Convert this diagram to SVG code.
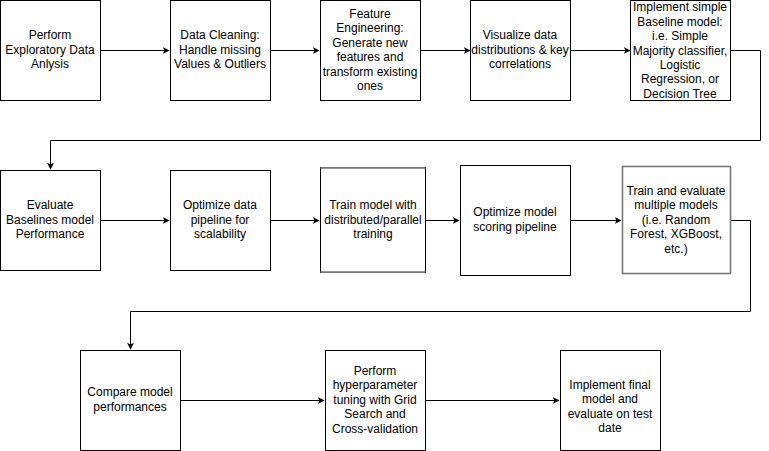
<svg xmlns="http://www.w3.org/2000/svg" width="769" height="451" viewBox="0 0 769 451">
<defs>
<style>
.n rect{fill:#fff;stroke:#000;stroke-width:1}
.g rect{stroke:#777;stroke-width:1.6}
text{font-family:"Liberation Sans",Arial,sans-serif;font-size:12px;fill:#000;text-anchor:middle}
.c path{fill:none;stroke:#000;stroke-width:1}
</style>
<marker id="a" viewBox="0 0 10 10" refX="9" refY="5" markerWidth="7" markerHeight="7" markerUnits="userSpaceOnUse" orient="auto"><path d="M0,0 L10,5 L0,10 L2.5,5 Z" fill="#000"/></marker>
</defs>
<rect width="769" height="451" fill="#fff"/>
<g class="c">
<path d="M100.5,50.5 H169" marker-end="url(#a)"/>
<path d="M270.5,50.5 H319" marker-end="url(#a)"/>
<path d="M420.5,50.5 H470" marker-end="url(#a)"/>
<path d="M570.5,50.5 H630" marker-end="url(#a)"/>
<path d="M730.5,50.5 H760.5 V140.5 H50.5 V169" marker-end="url(#a)"/>
<path d="M100.5,220.5 H169" marker-end="url(#a)"/>
<path d="M270.5,220.5 H319" marker-end="url(#a)"/>
<path d="M425.5,220.5 H459" marker-end="url(#a)"/>
<path d="M570.5,220.5 H621" marker-end="url(#a)"/>
<path d="M730.5,220.5 H750.5 V311.5 H130.5 V349" marker-end="url(#a)"/>
<path d="M180.5,400.5 H324" marker-end="url(#a)"/>
<path d="M425.5,400.5 H559" marker-end="url(#a)"/>
</g>
<g id="n1" class="n"><rect x="0.5" y="0.5" width="100" height="100"/><text x="50" y="39">Perform</text><text x="50" y="54">Exploratory Data</text><text x="50" y="68">Anlysis</text></g>
<g id="n2" class="n"><rect x="170.5" y="0.5" width="100" height="100"/><text x="220" y="39">Data Cleaning:</text><text x="220" y="54">Handle missing</text><text x="220" y="68">Values &amp; Outliers</text></g>
<g id="n3" class="n"><rect x="320.5" y="0.5" width="100" height="100"/><text x="370" y="18">Feature</text><text x="370" y="32">Engineering:</text><text x="370" y="47">Generate new</text><text x="370" y="61">features and</text><text x="370" y="76">transform existing</text><text x="370" y="90">ones</text></g>
<g id="n4" class="n"><rect x="470.5" y="0.5" width="100" height="100"/><text x="520" y="39">Visualize data</text><text x="520" y="54">distributions &amp; key</text><text x="520" y="68">correlations</text></g>
<g id="n5" class="n"><rect x="630.5" y="0.5" width="100" height="100"/><text x="680" y="11">Implement simple</text><text x="680" y="26">Baseline model:</text><text x="680" y="40">i.e. Simple</text><text x="680" y="55">Majority classifier,</text><text x="680" y="69">Logistic</text><text x="680" y="83">Regression, or</text><text x="680" y="98">Decision Tree</text></g>
<g id="n6" class="n"><rect x="0.5" y="170.5" width="100" height="100"/><text x="50" y="209">Evaluate</text><text x="50" y="224">Baselines model</text><text x="50" y="238">Performance</text></g>
<g id="n7" class="n"><rect x="170.5" y="170.5" width="100" height="100"/><text x="220" y="209">Optimize data</text><text x="220" y="224">pipeline for</text><text x="220" y="238">scalability</text></g>
<g id="n8" class="n"><rect x="320.5" y="167.5" width="105" height="105"/><path d="M320.5,167.8 H425.5 M320.5,272.2 H425.5" stroke="#777" stroke-width="1.8"/><text x="373" y="209">Train model with</text><text x="373" y="224">distributed/parallel</text><text x="373" y="238">training</text></g>
<g id="n9" class="n"><rect x="460.5" y="165.5" width="110" height="110"/><text x="515" y="216">Optimize model</text><text x="515" y="231">scoring pipeline</text></g>
<g id="n10" class="n g"><rect x="622.5" y="166.5" width="108" height="107"/><text x="676" y="195">Train and evaluate</text><text x="676" y="209">multiple models</text><text x="676" y="224">(i.e. Random</text><text x="676" y="238">Forest, XGBoost,</text><text x="676" y="253">etc.)</text></g>
<g id="n11" class="n"><rect x="80.5" y="350.5" width="100" height="100"/><text x="130" y="396">Compare model</text><text x="130" y="411">performances</text></g>
<g id="n12" class="n"><rect x="325.5" y="350.5" width="100" height="100"/><text x="375" y="375">Perform</text><text x="375" y="389">hyperparameter</text><text x="375" y="404">tuning with Grid</text><text x="375" y="418">Search and</text><text x="375" y="433">Cross-validation</text></g>
<g id="n13" class="n"><rect x="560.5" y="350.5" width="100" height="100"/><text x="610" y="389">Implement final</text><text x="610" y="403">model and</text><text x="610" y="418">evaluate on test</text><text x="610" y="432">date</text></g>
</svg>
